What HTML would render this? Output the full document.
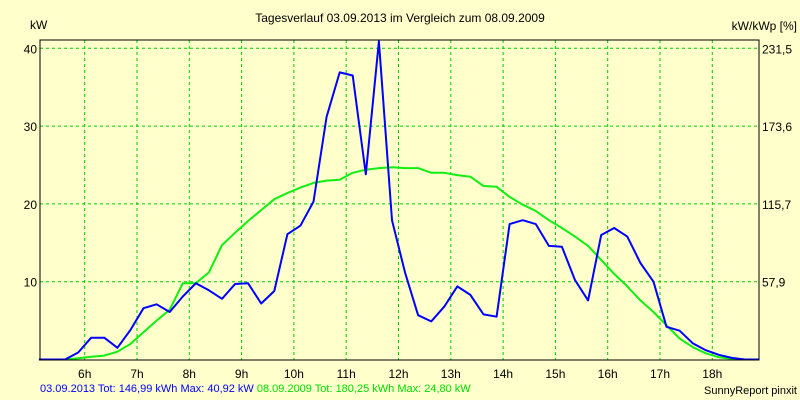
<!DOCTYPE html>
<html><head><meta charset="utf-8"><style>
body{margin:0;background:#FFFFCC;}
svg{display:block;font-family:"Liberation Sans",sans-serif;font-size:12px;}
</style></head><body>
<svg id="chart" width="800" height="400">
<rect x="0" y="0" width="800" height="400" fill="#FFFFCC"/>
<text x="400" y="22" text-anchor="middle" fill="#000">Tagesverlauf 03.09.2013 im Vergleich zum 08.09.2009</text>
<text x="30" y="29" fill="#000">kW</text>
<text x="797" y="30" text-anchor="end" fill="#000">kW/kWp [%]</text>
<g id="grid"></g>
<g id="series"></g>
<rect x="40" y="40" width="719" height="320" fill="none" stroke="#000" stroke-width="1"/>
<g id="labels"></g>
<text x="40" y="392" font-size="11"><tspan fill="#0000FF">03.09.2013 Tot: 146,99 kWh Max: 40,92 kW</tspan><tspan fill="#00DD00"> 08.09.2009 Tot: 180,25 kWh Max: 24,80 kW</tspan></text>
<text x="797" y="394" text-anchor="end" font-size="11" fill="#000">SunnyReport pinxit</text>
</svg>
<script>
const hourTicks=[6,7,8,9,10,11,12,13,14,15,16,17,18];
const kwTicks=[10,20,30,40];
const pctLabels=["57,9","115,7","173,6","231,5"];
const times=[5.125,5.375,5.625,5.875,6.125,6.375,6.625,6.875,7.125,7.375,7.625,7.875,8.125,8.375,8.625,8.875,9.125,9.375,9.625,9.875,10.125,10.375,10.625,10.875,11.125,11.375,11.625,11.875,12.125,12.375,12.625,12.875,13.125,13.375,13.625,13.875,14.125,14.375,14.625,14.875,15.125,15.375,15.625,15.875,16.125,16.375,16.625,16.875,17.125,17.375,17.625,17.875,18.125,18.375,18.625,18.9];
const blue2013=[0,0,0,0.9,2.8,2.8,1.5,3.8,6.6,7.1,6.1,8.1,9.8,8.9,7.8,9.7,9.8,7.2,8.8,16.1,17.2,20.3,31.2,36.9,36.5,23.8,40.9,17.9,11.2,5.7,4.9,6.8,9.4,8.3,5.8,5.5,17.4,17.9,17.4,14.6,14.5,10.2,7.6,16.0,16.9,15.8,12.4,10.0,4.2,3.7,2.1,1.2,0.6,0.2,0,0];
const green2009=[0,0,0,0.15,0.35,0.5,1.0,2.0,3.5,5.0,6.4,9.8,9.8,11.2,14.7,16.3,17.8,19.2,20.6,21.4,22.1,22.7,23.0,23.1,24.0,24.4,24.6,24.7,24.6,24.6,24.0,24.0,23.7,23.5,22.3,22.2,20.9,19.9,19.1,17.9,16.9,15.8,14.6,12.8,11.0,9.4,7.6,6.1,4.4,2.7,1.6,0.8,0.3,0.1,0,0];
const NS="http://www.w3.org/2000/svg";
function xs(h){return 84.7+(h-6)*52.3;}
function ys(v){return Math.max(40,359.5-v*7.78);}
const grid=document.getElementById('grid'),labels=document.getElementById('labels'),series=document.getElementById('series');
function mk(tag,attrs,parent){const e=document.createElementNS(NS,tag);for(const k in attrs)e.setAttribute(k,attrs[k]);parent.appendChild(e);return e;}
hourTicks.forEach(h=>{
  const l=mk('line',{x1:xs(h),x2:xs(h),y1:40,y2:360,stroke:'#00CC00','stroke-dasharray':'3,3'},grid);
  
  
  const t=mk('text',{x:xs(h),y:378,'text-anchor':'middle',fill:'#000'},labels);
  t.textContent=h+'h';
  
  
});
kwTicks.forEach((v,i)=>{
  const l=mk('line',{x1:40,x2:759,y1:ys(v),y2:ys(v),stroke:'#00CC00','stroke-dasharray':'3,3'},grid);
  
  
  const t=mk('text',{x:37,y:ys(v)+5,'text-anchor':'end',fill:'#000'},labels);
  t.textContent=v;
  
  
  const r=mk('text',{x:762,y:ys(v)+5,fill:'#000'},labels);
  r.textContent=pctLabels[i];
  
  
});
function line(vals,color,name){
  const pts=times.map((t,i)=>Math.min(xs(t),759).toFixed(1)+','+ys(vals[i]).toFixed(1)).join(' ');
  const p=mk('polyline',{points:pts,fill:'none',stroke:color,'stroke-width':2,'stroke-linejoin':'round'},series);
  
  
}
line(green2009,'#11EE11','series-08-09-2009');
line(blue2013,'#0000FF','series-03-09-2013');
</script>
</body></html>
